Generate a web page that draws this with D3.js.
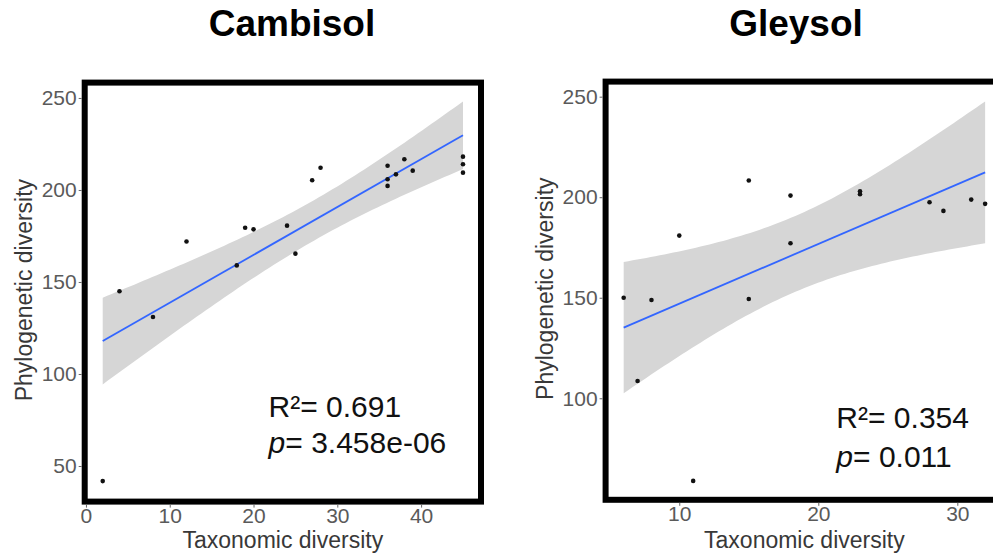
<!DOCTYPE html>
<html>
<head>
<meta charset="utf-8">
<script src="https://cdn.jsdelivr.net/npm/d3@7"></script>
<style>
  body { margin: 0; background: #fff; }
  text { font-family: "Liberation Sans", Arial, sans-serif; }
</style>
</head>
<body>
<div id="wrapper"></div>
<script>
// data
const cambisolX = [2, 4, 8, 12, 18, 19, 20, 24, 25, 27, 28, 36, 36, 36, 37, 38, 39, 45, 45, 45]
const cambisolY = [41.8, 145, 131, 172, 159, 179.5, 178.6, 180.6, 165.4, 205.3, 212.1, 213.2, 205.8, 202.2, 208.5, 216.7, 210.5, 218.1, 214, 209.4]
const gleysolX = [6, 7, 8, 10, 11, 15, 15, 18, 18, 23, 23, 28, 29, 31, 32]
const gleysolY = [150, 108.6, 148.9, 180.9, 58.9, 208.3, 149.4, 200.8, 177.1, 201.5, 203, 197.5, 193.2, 198.8, 196.7]
const cambisolXTicks = [0, 10, 20, 30, 40]
const cambisolYTicks = [50, 100, 150, 200, 250]
const gleysolXTicks = [10, 20, 30]
const gleysolYTicks = [100, 150, 200, 250]
const cambisolStats = ["R²= 0.691", "3.458e-06"]
const gleysolStats = ["R²= 0.354", "0.011"]

//1_panel setup
const panels = [
  {
    title: "Cambisol", titleX: 292,
    xs: cambisolX, ys: cambisolY, xTicks: cambisolXTicks, yTicks: cambisolYTicks,
    stats: cambisolStats, tq: 2.1009, // qt(0.975, 18)
    xDomain: [-0.15, 47.15], xRange: [84.7, 481],
    yDomain: [30.65, 258.35], yRange: [501.6, 82.6],
    labelAt: [21.8, 76.8, 57]
  },
  {
    title: "Gleysol", titleX: 796,
    xs: gleysolX, ys: gleysolY, xTicks: gleysolXTicks, yTicks: gleysolYTicks,
    stats: gleysolStats, tq: 2.1604, // qt(0.975, 13)
    xDomain: [4.7, 33.3], xRange: [605.6, 1003.2],
    yDomain: [49.5, 257.5], yRange: [499.8, 81.6],
    labelAt: [21.3, 85.2, 66]
  }
]

const svg = d3.select("#wrapper")
    .append("svg")
    .attr("width", 993)
    .attr("height", 558)

// ordinary least squares fit with 95% confidence band (like geom_smooth(method = "lm"))
function lmFit(xs, ys, tq) {
  const n = xs.length
  const mx = d3.mean(xs), my = d3.mean(ys)
  const sxx = d3.sum(xs, x => (x - mx) ** 2)
  const sxy = d3.sum(xs, (x, i) => (x - mx) * (ys[i] - my))
  const b = sxy / sxx, a = my - b * mx
  const sse = d3.sum(xs, (x, i) => (ys[i] - a - b * x) ** 2)
  const s = Math.sqrt(sse / (n - 2))
  return {
    fit: x => a + b * x,
    hw: x => tq * s * Math.sqrt(1 / n + (x - mx) ** 2 / sxx)
  }
}

panels.forEach(p => {
  const xScale = d3.scaleLinear().domain(p.xDomain).range(p.xRange)
  const yScale = d3.scaleLinear().domain(p.yDomain).range(p.yRange)
  const model = lmFit(p.xs, p.ys, p.tq)
  const [x0, x1] = d3.extent(p.xs)
  const grid = d3.range(81).map(i => x0 + (x1 - x0) * i / 80)

  const g = svg.append("g")

  //band
  g.append("path")
      .datum(grid)
      .attr("d", d3.area()
        .x(d => xScale(d))
        .y0(d => yScale(model.fit(d) - model.hw(d)))
        .y1(d => yScale(model.fit(d) + model.hw(d))))
      .attr("fill", "#d6d6d6")

  //fit line
  g.append("line")
      .attr("x1", xScale(x0))
      .attr("x2", xScale(x1))
      .attr("y1", yScale(model.fit(x0)))
      .attr("y2", yScale(model.fit(x1)))
      .attr("stroke", "#3366ff")
      .attr("stroke-width", 1.8)

  //points
  g.append("g")
    .selectAll("circle")
    .data(p.xs)
    .join("circle")
      .attr("cx", d => xScale(d))
      .attr("cy", (d, i) => yScale(p.ys[i]))
      .attr("r", 2.3)
      .attr("fill", "#111")

  //stats labels
  g.append("text")
      .attr("x", xScale(p.labelAt[0]))
      .attr("y", yScale(p.labelAt[1]))
      .text(p.stats[0])
      .style("font-size", "30px")
      .attr("fill", "#111")
  const pt = g.append("text")
      .attr("x", xScale(p.labelAt[0]))
      .attr("y", yScale(p.labelAt[2]))
      .style("font-size", "30px")
      .attr("fill", "#111")
  pt.append("tspan").text("p").style("font-style", "italic")
  pt.append("tspan").text("= " + p.stats[1])

  //frame
  g.append("rect")
      .attr("x", p.xRange[0])
      .attr("y", p.yRange[1])
      .attr("width", p.xRange[1] - p.xRange[0])
      .attr("height", p.yRange[0] - p.yRange[1])
      .attr("fill", "none")
      .attr("stroke", "#000")
      .attr("stroke-width", 6)

  //axes
  const yAxis = g.append("g")
      .attr("transform", `translate(${p.xRange[0] - 3},0)`)
      .call(d3.axisLeft(yScale).tickValues(p.yTicks).tickSize(3).tickPadding(2))
  const xAxis = g.append("g")
      .attr("transform", `translate(0,${p.yRange[0] + 3})`)
      .call(d3.axisBottom(xScale).tickValues(p.xTicks).tickSize(3).tickPadding(0))
  ;[xAxis, yAxis].forEach(ax => {
    ax.select(".domain").remove()
    ax.selectAll(".tick line").attr("stroke", "#666")
    ax.selectAll(".tick text")
        .attr("fill", "#5a5a5a")
        .style("font-size", "21px")
        .style("font-family", "Liberation Sans, Arial, sans-serif")
  })

  //axis titles
  g.append("text")
      .attr("x", (p.xRange[0] + p.xRange[1]) / 2)
      .attr("y", 548)
      .text("Taxonomic diversity")
      .attr("fill", "#383838")
      .style("font-size", "23px")
      .style("text-anchor", "middle")
  g.append("text")
      .attr("transform", `translate(${p.xRange[0] - 53},${(p.yRange[0] + p.yRange[1]) / 2 - 2}) rotate(-90)`)
      .text("Phylogenetic diversity")
      .attr("fill", "#383838")
      .style("font-size", "23px")
      .style("text-anchor", "middle")

  //title
  svg.append("text")
      .attr("x", p.titleX)
      .attr("y", 36)
      .text(p.title)
      .style("font-size", "37px")
      .style("font-weight", "bold")
      .style("text-anchor", "middle")
      .attr("fill", "#000")
})
</script>
</body>
</html>
